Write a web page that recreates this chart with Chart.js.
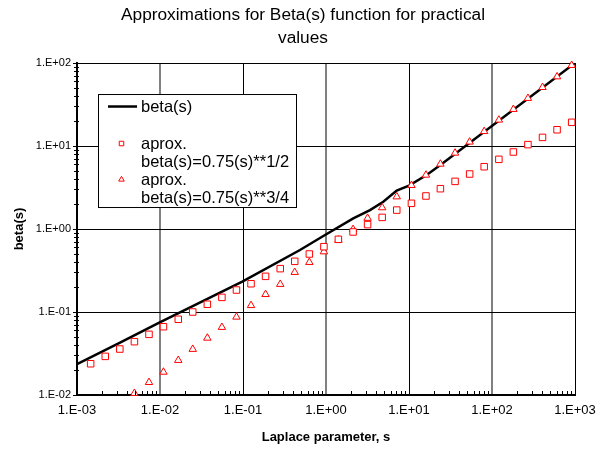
<!DOCTYPE html>
<html>
<head>
<meta charset="utf-8">
<script src="https://cdn.jsdelivr.net/npm/chart.js@4.4.1/dist/chart.umd.min.js"></script>
<style>
  html, body { margin: 0; padding: 0; background: #fff; }
  canvas { display: block; }
</style>
</head>
<body>
<canvas id="betaChart" width="606" height="450"></canvas>
<script>
// values (log-log)
const sValues = [0.00146, 0.00219, 0.00328, 0.00492, 0.00737, 0.0110, 0.0166, 0.0248, 0.0372, 0.0557,
  0.0834, 0.125, 0.187, 0.281, 0.420, 0.630, 0.944, 1.41, 2.12, 3.17,
  4.75, 7.12, 10.7, 16.0, 23.9, 35.9, 53.8, 80.5, 121, 181,
  271, 406, 608, 912];

// aprox. beta(s)=0.75(s)**1/2
const squareValues = [0.0238, 0.0292, 0.0358, 0.0439, 0.0538, 0.0665, 0.0817, 0.100, 0.124, 0.150,
  0.184, 0.219, 0.269, 0.333, 0.408, 0.500, 0.612, 0.751, 0.921, 1.13,
  1.38, 1.69, 2.04, 2.50, 3.06, 3.75, 4.60, 5.63, 6.91, 8.47,
  10.4, 12.7, 15.7, 19.3];

// aprox. beta(s)=0.75(s)**3/4 (first three fall below the axis)
const triangleValues = [null, null, null, 0.0105, 0.0142, 0.0189, 0.0262, 0.0356, 0.0486, 0.0655,
  0.0871, 0.120, 0.163, 0.216, 0.301, 0.397, 0.533, 0.736, 0.990, 1.35,
  1.81, 2.45, 3.36, 4.47, 6.07, 8.24, 11.2, 15.0, 20.6, 27.7,
  37.6, 50.9, 68.4, 93.8];

// beta(s) curve
const betaS = [0.001, 0.0033, 0.0098, 0.098, 0.486, 0.973, 2.13, 3.39, 4.90, 7.11, 10.0, 16.3, 24.8, 1000];
const betaValues = [0.0236, 0.0427, 0.0743, 0.232, 0.558, 0.847, 1.345, 1.69, 2.13, 2.90, 3.34, 4.47, 6.07, 100];

const xDecades = [0.001, 0.01, 0.1, 1, 10, 100, 1000];
const yDecades = [0.01, 0.1, 1, 10, 100];

const legendLabels = [
  ['beta(s)'],
  ['aprox.', 'beta(s)=0.75(s)**1/2'],
  ['aprox.', 'beta(s)=0.75(s)**3/4']
];

const FONT = 'Arial, "Liberation Sans", sans-serif';
Chart.defaults.font.family = FONT;
Chart.defaults.color = '#000';

function sciLabel(v) {
  const e = Math.round(Math.log10(v));
  return '1.E' + (e < 0 ? '-' : '+') + String(Math.abs(e)).padStart(2, '0');
}

function pairs(xs, ys) {
  return xs.map((x, i) => ({ x: x, y: ys[i] })).filter(p => p.y !== null);
}

// small tick marks between the decades
const minorTicks = {
  id: 'minorTicks',
  afterDraw(chart) {
    const { ctx, scales: { x, y }, chartArea } = chart;
    ctx.save();
    ctx.strokeStyle = '#000';
    ctx.lineWidth = 1;
    ctx.beginPath();
    for (let d = 0; d < xDecades.length - 1; d++) {
      for (let k = 2; k <= 9; k++) {
        const px = Math.round(x.getPixelForValue(k * xDecades[d])) + 0.5;
        ctx.moveTo(px, chartArea.bottom);
        ctx.lineTo(px, chartArea.bottom - 4);
      }
    }
    for (let d = 0; d < yDecades.length - 1; d++) {
      for (let k = 2; k <= 9; k++) {
        const py = Math.round(y.getPixelForValue(k * yDecades[d])) + 0.5;
        ctx.moveTo(chartArea.left - 3, py);
        ctx.lineTo(chartArea.left + 2, py);
      }
    }
    yDecades.forEach(v => {
      const py = Math.round(y.getPixelForValue(v)) + 0.5;
      ctx.moveTo(chartArea.left - 4, py);
      ctx.lineTo(chartArea.left, py);
    });
    ctx.stroke();
    ctx.restore();
  }
};

// boxed legend inside the plot
const legendBox = {
  id: 'legendBox',
  afterDatasetsDraw(chart) {
    const { ctx, chartArea } = chart;
    const x0 = chartArea.left + 21, y0 = chartArea.top + 31;
    ctx.save();
    ctx.fillStyle = '#fff';
    ctx.fillRect(x0, y0, 198, 113);
    ctx.strokeStyle = '#000';
    ctx.lineWidth = 1;
    ctx.strokeRect(x0 + 0.5, y0 + 0.5, 198, 113);

    const rowY = [y0 + 12.5, y0 + 49.5, y0 + 85.5];

    // line sample
    const ds0 = chart.data.datasets[0];
    ctx.strokeStyle = ds0.borderColor;
    ctx.lineWidth = ds0.borderWidth;
    ctx.beginPath();
    ctx.moveTo(x0 + 10, y0 + 12.5);
    ctx.lineTo(x0 + 39, y0 + 12.5);
    ctx.stroke();

    // marker samples
    for (let i = 1; i <= 2; i++) {
      const ds = chart.data.datasets[i];
      ctx.strokeStyle = ds.borderColor;
      ctx.fillStyle = '#fff';
      ctx.lineWidth = 1;
      Chart.helpers.drawPoint(ctx, {
        pointStyle: ds.pointStyle, radius: 3.2, rotation: 0, borderWidth: 1
      }, x0 + 23.5, rowY[i]);
    }

    ctx.font = '16.5px ' + FONT;
    ctx.textBaseline = 'middle';
    ctx.fillStyle = '#000';
    const textX = x0 + 43;
    legendLabels.forEach((lines, i) => {
      lines.forEach((t, j) => ctx.fillText(t, textX, rowY[i] + 1 + j * 18));
    });
    ctx.restore();
  }
};

new Chart(document.getElementById('betaChart').getContext('2d'), {
  type: 'scatter',
  data: {
    datasets: [{
      label: 'beta(s)',
      data: pairs(betaS, betaValues),
      showLine: true,
      borderColor: '#000',
      borderWidth: 2.5,
      pointRadius: 0,
      tension: 0,
      order: 3
    }, {
      label: 'aprox. beta(s)=0.75(s)**1/2',
      data: pairs(sValues, squareValues),
      pointStyle: 'rect',
      pointRadius: 4.6,
      borderColor: '#ff0000',
      backgroundColor: '#fff',
      borderWidth: 1,
      clip: false,
      order: 1
    }, {
      label: 'aprox. beta(s)=0.75(s)**3/4',
      data: pairs(sValues, triangleValues),
      pointStyle: 'triangle',
      pointRadius: 4.3,
      borderColor: '#ff0000',
      backgroundColor: '#fff',
      borderWidth: 1,
      clip: false,
      order: 2
    }]
  },
  options: {
    responsive: false,
    animation: false,
    layout: { padding: { left: 0, right: 0, top: 0, bottom: 0 } },
    plugins: {
      legend: { display: false },
      tooltip: { enabled: false },
      title: {
        display: true,
        text: ['Approximations for Beta(s) function for practical', 'values'],
        font: { size: 17.3, weight: 'normal', lineHeight: 1.33 },
        color: '#000',
        padding: { top: 4, bottom: 13 }
      }
    },
    scales: {
      x: {
        type: 'logarithmic',
        min: 0.001,
        max: 1000,
        afterBuildTicks: s => { s.ticks = xDecades.map(v => ({ value: v })); },
        afterFit: s => { s.height = 55; },
        ticks: { callback: v => sciLabel(v), font: { size: 13 }, padding: 8, maxRotation: 0, autoSkip: false },
        grid: {
          drawTicks: false,
          color: c => Math.round(Math.log10(c.tick.value)) % 2 === 0 ? '#808080' : '#000',
          lineWidth: c => Math.round(Math.log10(c.tick.value)) % 2 === 0 ? 2 : 1
        },
        border: { color: '#000', width: 2 },
        title: {
          display: true,
          text: 'Laplace parameter, s',
          font: { size: 13, weight: 'bold' },
          padding: { top: 0, bottom: 5 }
        }
      },
      y: {
        type: 'logarithmic',
        min: 0.01,
        max: 100,
        afterBuildTicks: s => { s.ticks = yDecades.map(v => ({ value: v })); },
        afterFit: s => { s.width = 77; },
        ticks: { callback: v => sciLabel(v), font: { size: 11 }, padding: 6, autoSkip: false },
        grid: { drawTicks: false, color: '#000', lineWidth: 1 },
        border: { color: '#000', width: 2 },
        title: {
          display: true,
          text: 'beta(s)',
          font: { size: 13, weight: 'bold' },
          padding: { top: 12, bottom: 0 }
        }
      },
      // empty right-hand strip so the plot ends where the reference's does
      right: {
        type: 'linear',
        position: 'right',
        display: true,
        afterFit: s => { s.width = 31; },
        ticks: { display: false },
        grid: { display: false },
        border: { display: false }
      }
    }
  },
  plugins: [minorTicks, legendBox]
});
</script>
</body>
</html>
